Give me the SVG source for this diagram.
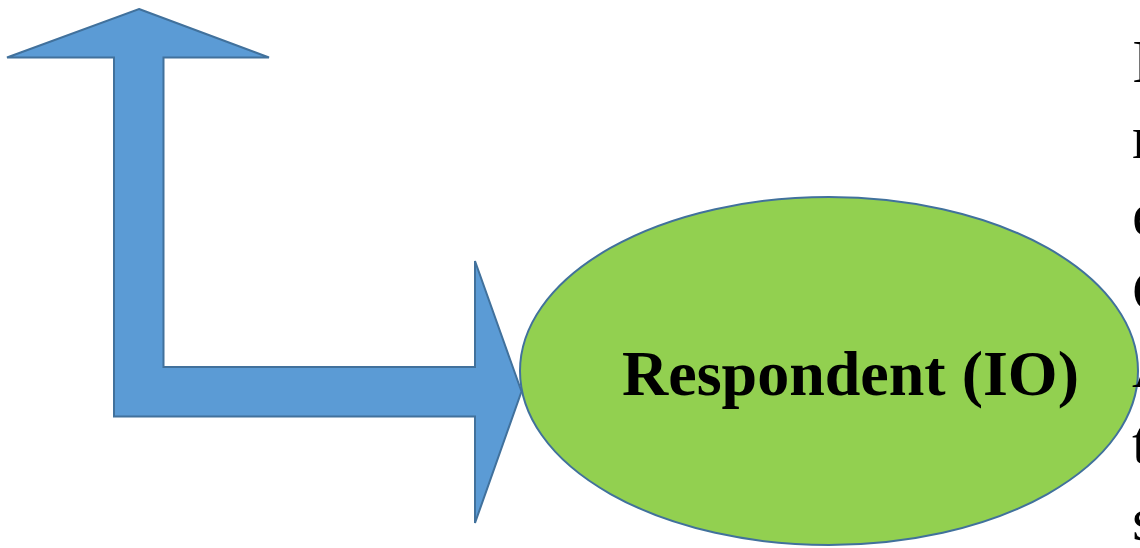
<svg xmlns="http://www.w3.org/2000/svg" width="1140" height="548" viewBox="0 0 1140 548">
  <style>
    .shape { stroke: #41719C; stroke-width: 2; stroke-linejoin: miter; }
    .arrow { fill: #5B9BD5; }
    .oval { fill: #92D050; }
    .label { font-family: "Liberation Serif", "Times New Roman", serif; font-weight: bold; font-size: 64px; fill: #000; }
    .side { font-family: "Liberation Serif", "Times New Roman", serif; font-size: 62px; fill: #000; }
  </style>

  <!-- Bent double-headed arrow: up and to the right -->
  <g id="connectors">
    <path class="shape arrow" d="M139,9 L269,57.5 L163.5,57.5 L163.5,367 L475,367 L475,261 L521.5,391.5 L475,523 L475,416.5 L114,416.5 L114,57.5 L7,57.5 Z"/>
  </g>

  <!-- Respondent node -->
  <g id="respondent">
    <ellipse class="shape oval" cx="829" cy="371" rx="309" ry="174"/>
    <text class="label" x="622" y="395">Respondent (IO)</text>
  </g>

  <!-- Body text running off the right edge -->
  <g id="side-text">
    <text class="side" x="1132" y="82">I</text>
    <text class="side" x="1132" y="158">r</text>
    <text class="side" x="1132" y="235">e</text>
    <text class="side" x="1132" y="311">C</text>
    <text class="side" x="1132" y="387">A</text>
    <text class="side" x="1132" y="463">t</text>
    <text class="side" x="1132" y="540">s</text>
  </g>
</svg>
